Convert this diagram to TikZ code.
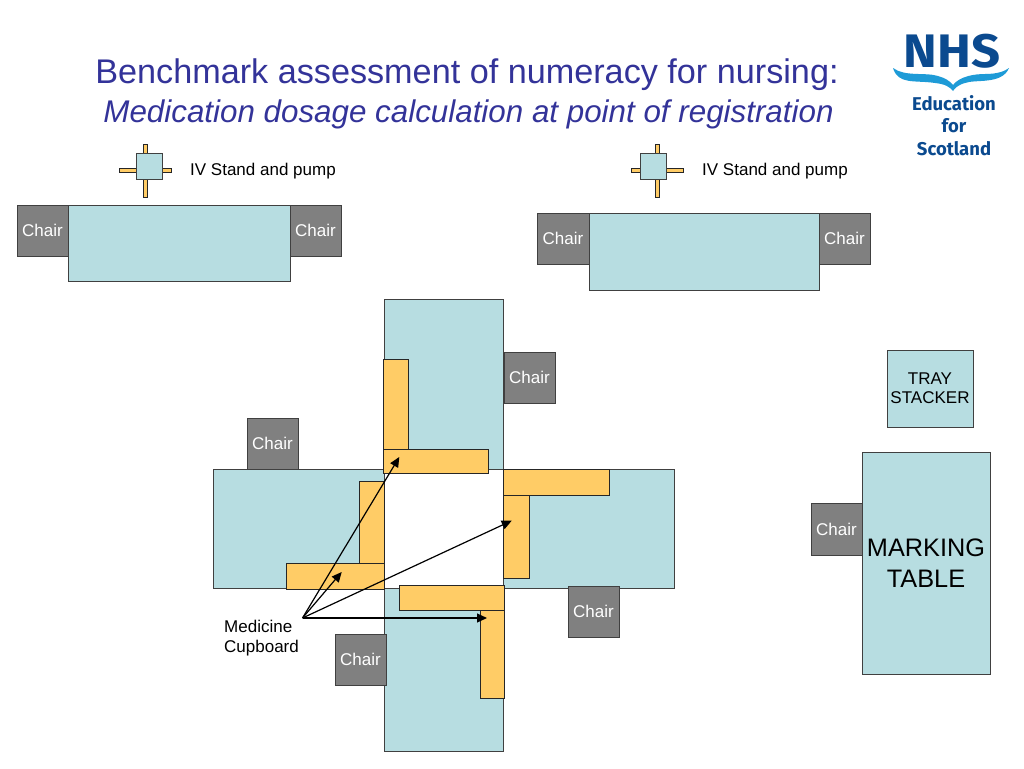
\documentclass[tikz,border=0pt]{standalone}
\usepackage{fontspec}
\usetikzlibrary{arrows.meta}
\setmainfont{Liberation Sans}
\newfontfamily\logofont{Fira Sans}
\definecolor{tablefill}{HTML}{B7DDE1}
\definecolor{chairfill}{HTML}{808080}
\definecolor{cupfill}{HTML}{FFCC66}
\definecolor{titleblue}{HTML}{333399}
\definecolor{nhsblue}{HTML}{0B4A8F}
\definecolor{nhslight}{HTML}{1E9BD7}
\newcommand{\fs}[1]{\fontsize{#1pt}{\dimexpr#1pt*6/5\relax}\selectfont}
% \rct[style]{x1}{y1}{x2}{y2}{name}{text}
\newcommand{\rct}[7][]{\node[#1,minimum width=#4pt-#2pt,minimum height=#5pt-#3pt] (#6) at ({(#2+#4)/2},{(#3+#5)/2}) {#7};}
\tikzset{
 base/.style={draw=black!75,line width=0.9pt,inner sep=0pt,outer sep=0pt,anchor=center,align=center},
 tbl/.style={base,fill=tablefill},
 chair/.style={base,fill=chairfill,text=white,font=\fs{17}},
 cup/.style={base,fill=cupfill,draw=black!85},
 lbl/.style={inner sep=0pt,font=\fs{17},align=left,text=black},
 arr/.style={-{Triangle[length=10pt,width=9pt]},line width=1.2pt,black},
}
\begin{document}
\begin{tikzpicture}[x=1pt,y=-1pt]
\useasboundingbox (0,0) rectangle (1024,768);
\fill[white] (0,0) rectangle (1024,768);
% Title
\node[inner sep=0pt,text=titleblue,font=\fs{34.2}] (t1) at (467,75) {Benchmark assessment of numeracy for nursing:};
\node[inner sep=0pt,text=titleblue,font=\fs{31.35}\itshape] (t2) at (468.5,114) {Medication dosage calculation at point of registration};
% Logo
\node[inner sep=0pt,text=nhsblue,font=\logofont\bfseries\fs{47},xscale=1.08] (nhs) at (952,51) {NHS};
\fill[nhslight] (893,68) .. controls (905,77) and (925,72) .. (938,76) .. controls (945,78) and (950,81) .. (953,85)
  .. controls (960,76) and (975,74) .. (985,74) .. controls (998,74) and (1005,71) .. (1009,68)
  .. controls (1002,85) and (975,79) .. (965,83) .. controls (958,85) and (955,88) .. (953,91)
  .. controls (950,87) and (945,84) .. (935,83) .. controls (915,80) and (898,85) .. (893,68) -- cycle;
\node[inner sep=0pt,text=nhsblue,font=\logofont\bfseries\fs{18.5},align=center] (edu) at (954,103) {Education};
\node[inner sep=0pt,text=nhsblue,font=\logofont\bfseries\fs{18.5}] (for) at (954,126) {for};
\node[inner sep=0pt,text=nhsblue,font=\logofont\bfseries\fs{18.5}] (sco) at (954,149) {Scotland};
% IV stands
\rct[cup]{143}{144}{147}{153}{ivaT}{}
\rct[cup]{143}{179}{147}{197}{ivaB}{}
\rct[cup]{119}{168}{136}{172}{ivaL}{}
\rct[cup]{162}{168}{171}{172}{ivaR}{}
\rct[tbl]{136}{153}{162}{179}{ivaS}{}
\rct[cup]{655}{144}{659}{153}{ivbT}{}
\rct[cup]{655}{179}{659}{197}{ivbB}{}
\rct[cup]{631}{168}{648}{172}{ivbL}{}
\rct[cup]{666}{168}{683}{172}{ivbR}{}
\rct[tbl]{640}{153}{666}{179}{ivbS}{}
\node[lbl,anchor=west] (ivla) at (190,171) {IV Stand and pump};
\node[lbl,anchor=west] (ivlb) at (702,171) {IV Stand and pump};
% Upper tables
\rct[tbl]{68}{205}{290}{281}{ta}{}
\rct[chair]{17}{205}{68}{256}{cha}{Chair}
\rct[chair]{290}{205}{341}{256}{chb}{Chair}
\rct[tbl]{589}{213}{819}{290}{tb}{}
\rct[chair]{537}{213}{589}{264}{chc}{Chair}
\rct[chair]{819}{213}{870}{264}{chd}{Chair}
% Cross tables
\rct[tbl]{384}{299}{503}{469}{cT}{}
\rct[tbl]{213}{469}{384}{588}{cL}{}
\rct[tbl]{503}{469}{674}{588}{cR}{}
\rct[tbl]{384}{588}{503}{751}{cB}{}
% Chairs
\rct[chair]{504}{352}{555}{403}{che}{Chair}
\rct[chair]{247}{418}{298}{469}{chf}{Chair}
\rct[chair]{568}{586}{619}{637}{chg}{Chair}
\rct[chair]{335}{634}{386}{685}{chh}{Chair}
% Cupboards
\rct[cup]{383}{359}{408}{449}{c1}{}
\rct[cup]{383}{449}{488}{473}{c2}{}
\rct[cup]{503}{469}{609}{495}{c3}{}
\rct[cup]{503}{495}{529}{578}{c4}{}
\rct[cup]{359}{481}{384}{563}{c5}{}
\rct[cup]{286}{563}{384}{589}{c6}{}
\rct[cup]{399}{585}{504}{610}{c7}{}
\rct[cup]{480}{610}{504}{698}{c8}{}
% Marking area
\rct[tbl,font=\fs{17}]{887}{350}{973}{427}{tray}{TRAY\\[-1pt]STACKER}
\rct[tbl,font=\fs{25.3}]{862}{452}{990}{674}{mark}{MARKING\\TABLE}
\rct[chair]{811}{503}{862}{555}{chi}{Chair}
% Label and arrows
\node[lbl,anchor=north west] (med) at (224,620) {Medicine\\Cupboard};
\coordinate (hub) at (302.5,618);
\coordinate (e1) at (399.3,457);
\coordinate (e2) at (341.7,572);
\coordinate (e3) at (511.7,520.7);
\coordinate (e4) at (487,618);
\draw[arr] (hub) -- (e1);
\draw[arr] (hub) -- (e2);
\draw[arr] (hub) -- (e3);
\draw[arr] (hub) -- (e4);
\end{tikzpicture}
\end{document}
